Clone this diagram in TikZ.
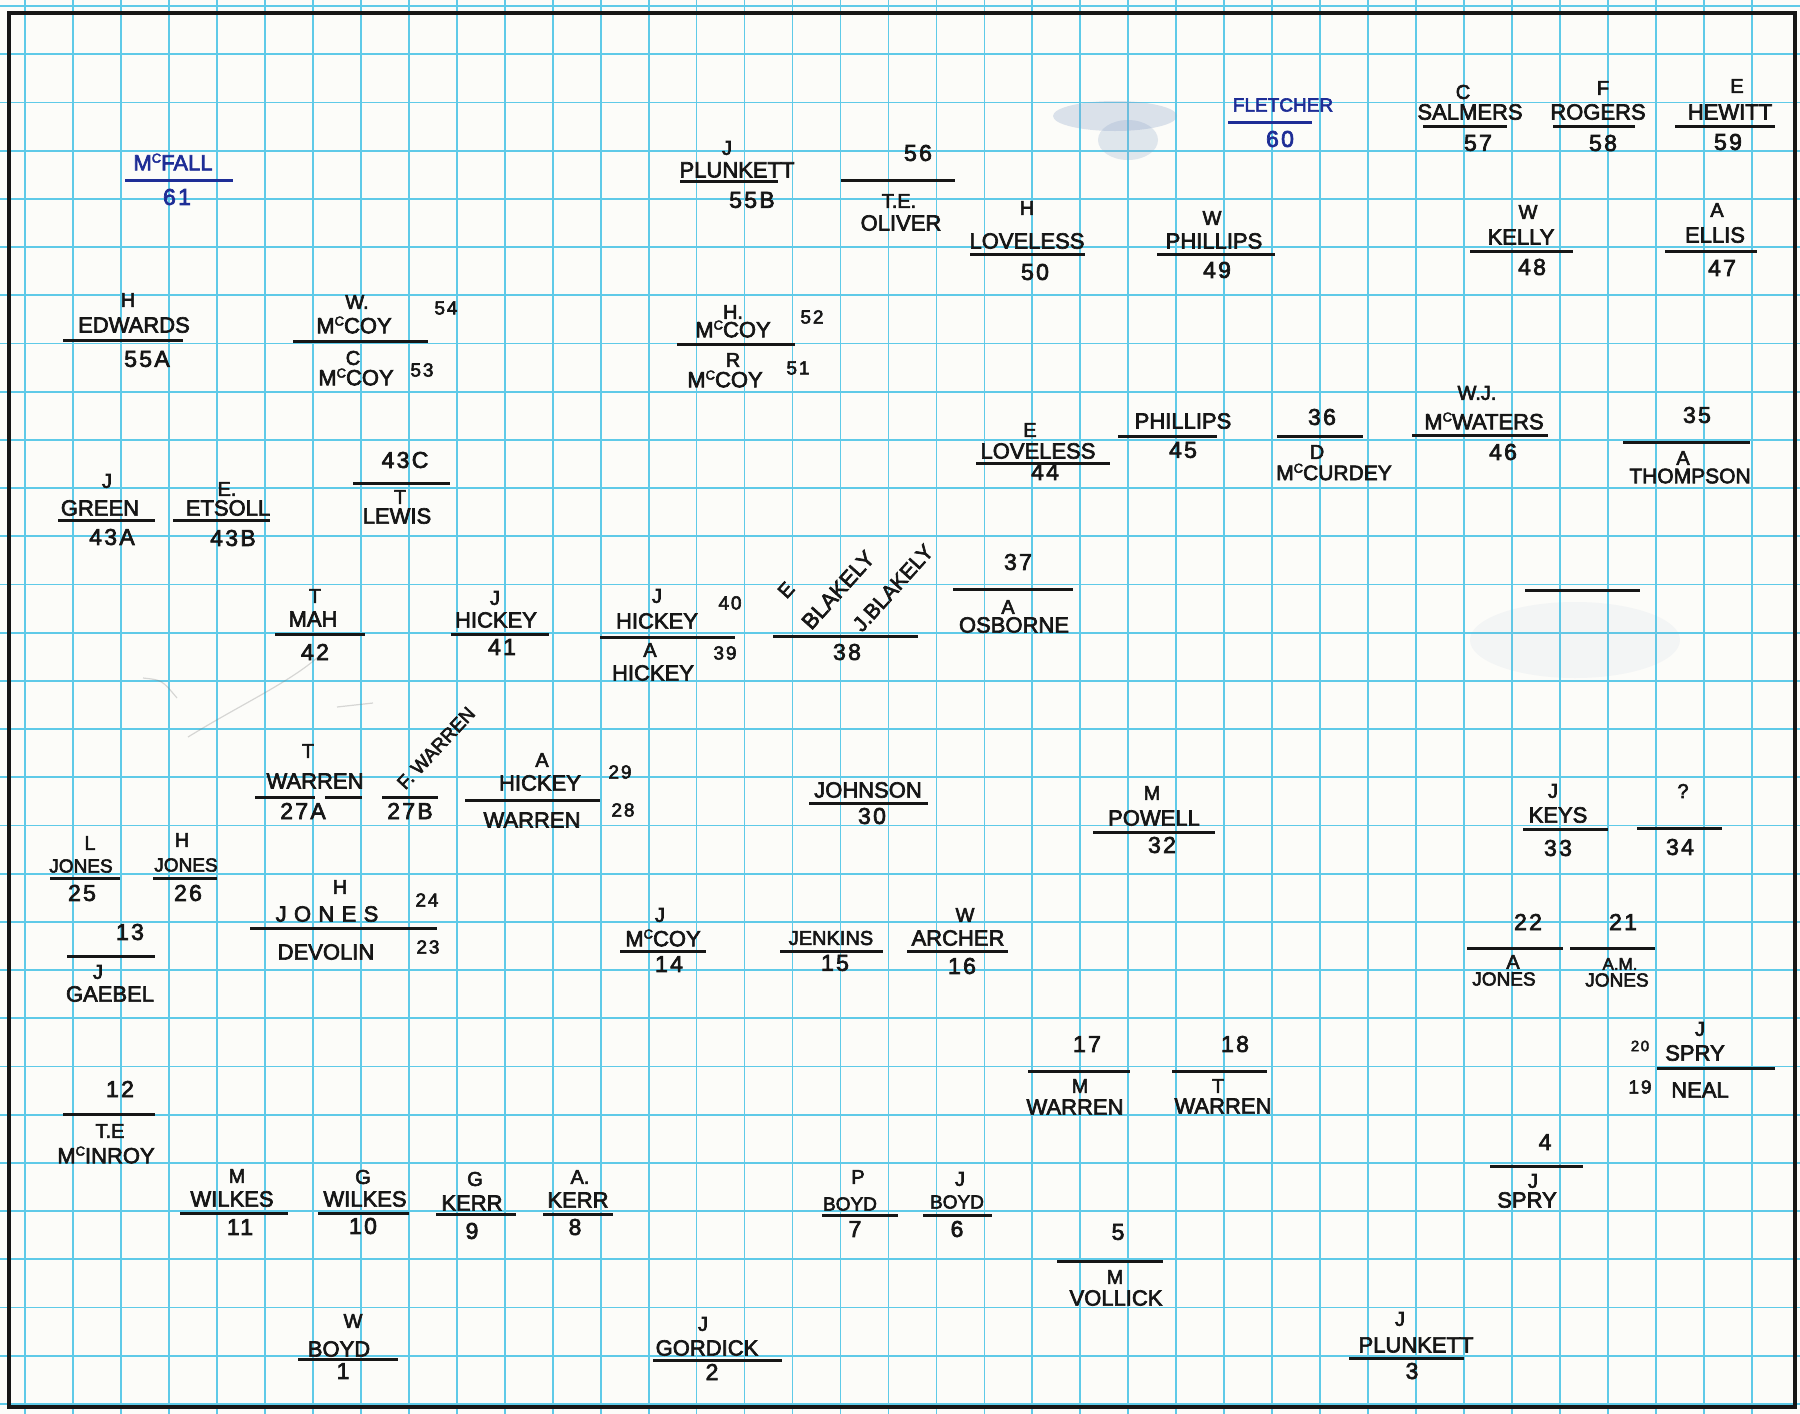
\documentclass[tikz,border=0pt]{standalone}
\usepackage{fontspec}
\setmainfont{Liberation Sans}[FakeBold=3]
\newfontfamily\numf{Liberation Sans}[FakeBold=3,LetterSpace=10]
\definecolor{ink}{RGB}{22,22,22}
\definecolor{blueink}{RGB}{30,45,150}
\definecolor{gridc}{RGB}{95,202,232}
\definecolor{paper}{RGB}{252,252,249}
\definecolor{smudge}{RGB}{140,165,200}
\newcommand\Mc{M\raisebox{0.35em}{\fontsize{13}{13}\selectfont C}}
\begin{document}
\begin{tikzpicture}[x=1pt,y=-1pt,
  nm/.style={inner sep=0pt,text=ink,font=\fontsize{22}{22}\selectfont},
  ini/.style={inner sep=0pt,text=ink,font=\fontsize{20}{20}\selectfont},
  num/.style={inner sep=0pt,text=ink,font=\numf\fontsize{23}{23}\selectfont},
  sm/.style={inner sep=0pt,text=ink,font=\numf\fontsize{19}{19}\selectfont},
  ul/.style={draw=ink,line width=3pt},
  gridline/.style={draw=gridc,line width=1.8pt},
  pencil/.style={draw=gray,opacity=0.3,line width=1.2pt}]
\useasboundingbox (0,0) rectangle (1800,1414);
\fill[paper] (0,0) rectangle (1800,1414);
% grid
\foreach \i in {0,...,36} \draw[gridline] ({25+47.97*\i},0) -- ({25+47.97*\i},1414);
\foreach \j in {0,...,29} \draw[gridline] (0,{6+48.2*\j}) -- (1800,{6+48.2*\j});
% smudges
\fill[smudge,opacity=0.3] (1115,116) ellipse [x radius=62, y radius=15];
\fill[smudge,opacity=0.25] (1128,140) ellipse [x radius=30, y radius=20];
\fill[smudge,opacity=0.08] (1575,640) ellipse [x radius=105, y radius=38];
% faint pencil
\draw[pencil] (188,737) .. controls (240,705) and (290,682) .. (318,657);
\draw[pencil] (143,678) .. controls (162,680) .. (177,698);
\draw[pencil] (337,707) -- (373,703);
% border
\draw[draw=ink,line width=4pt] (9,13) rectangle (1795,1407);

% ---- blue entries
\node[nm,text=blueink] (mcfall) at (173,162) {\Mc FALL};
\draw[ul,draw=blueink] (125,180) -- (233,180);
\node[num,text=blueink] (l61) at (177,197) {61};
\node[nm,text=blueink,font=\fontsize{19}{19}\selectfont] (fletcher) at (1283,105) {FLETCHER};
\draw[ul,draw=blueink] (1228,122) -- (1312,122);
\node[num,text=blueink] (l60) at (1280,139) {60};

% ---- top rows
\node[ini] (i55b) at (727,148) {J};
\node[nm] (plunkettb) at (737,170) {PLUNKETT};
\draw[ul] (680,181) -- (778,181);
\node[num] (l55b) at (752,200) {55B};

\node[num] (l56) at (918,153) {56};
\draw[ul] (841,180) -- (955,180);
\node[ini] (i56) at (899,201) {T.E.};
\node[nm] (oliver) at (901,223) {OLIVER};

\node[ini] (i50) at (1027,208) {H};
\node[nm] (loveless50) at (1027,241) {LOVELESS};
\draw[ul] (970,254) -- (1085,254);
\node[num] (l50) at (1035,272) {50};

\node[ini] (i49) at (1212,218) {W};
\node[nm] (phillips49) at (1214,241) {PHILLIPS};
\draw[ul] (1157,254) -- (1275,254);
\node[num] (l49) at (1217,270) {49};

\node[ini] (i57) at (1463,92) {C};
\node[nm] (salmers) at (1470,112) {SALMERS};
\draw[ul] (1423,126) -- (1507,126);
\node[num] (l57) at (1478,143) {57};

\node[ini] (i58) at (1603,88) {F};
\node[nm] (rogers) at (1598,112) {ROGERS};
\draw[ul] (1553,126) -- (1635,126);
\node[num] (l58) at (1603,143) {58};

\node[ini] (i59) at (1737,86) {E};
\node[nm] (hewitt) at (1730,112) {HEWITT};
\draw[ul] (1675,126) -- (1775,126);
\node[num] (l59) at (1728,142) {59};

\node[ini] (i48) at (1528,212) {W};
\node[nm] (kelly) at (1521,237) {KELLY};
\draw[ul] (1470,251) -- (1573,251);
\node[num] (l48) at (1532,267) {48};

\node[ini] (i47) at (1717,210) {A};
\node[nm] (ellis) at (1715,235) {ELLIS};
\draw[ul] (1665,251) -- (1757,251);
\node[num] (l47) at (1722,268) {47};

\node[ini] (i55a) at (128,300) {H};
\node[nm] (edwards) at (134,325) {EDWARDS};
\draw[ul] (63,340) -- (183,340);
\node[num] (l55a) at (147,359) {55A};

\node[ini] (i54) at (357,302) {W.};
\node[nm] (mccoy54) at (354,325) {\Mc COY};
\node[sm] (l54) at (446,308) {54};
\draw[ul] (293,341) -- (428,341);
\node[ini] (i53) at (353,358) {C};
\node[nm] (mccoy53) at (356,377) {\Mc COY};
\node[sm] (l53) at (422,370) {53};

\node[ini] (i52) at (733,312) {H.};
\node[nm] (mccoy52) at (733,329) {\Mc COY};
\node[sm] (l52) at (812,317) {52};
\draw[ul] (677,344) -- (795,344);
\node[ini] (i51) at (733,360) {R};
\node[nm] (mccoy51) at (725,379) {\Mc COY};
\node[sm] (l51) at (798,368) {51};

\node[ini] (i44) at (1030,430) {E};
\node[nm] (loveless44) at (1038,451) {LOVELESS};
\draw[ul] (976,463) -- (1110,463);
\node[num] (l44) at (1045,472) {44};

\node[nm] (phillips45) at (1183,421) {PHILLIPS};
\draw[ul] (1118,436) -- (1217,436);
\node[num] (l45) at (1183,450) {45};

\node[num] (l36) at (1322,417) {36};
\draw[ul] (1277,436) -- (1363,436);
\node[ini] (i36) at (1317,452) {D};
\node[nm,font=\fontsize{21}{21}\selectfont] (mccurdey) at (1334,472) {\Mc CURDEY};

\node[ini] (i46) at (1477,393) {W.J.};
\node[nm] (mcwaters) at (1484,421) {\Mc WATERS};
\draw[ul] (1412,435) -- (1548,435);
\node[num] (l46) at (1503,452) {46};

\node[num] (l35) at (1697,415) {35};
\draw[ul] (1623,442) -- (1750,442);
\node[ini] (i35) at (1683,458) {A};
\node[nm,font=\fontsize{21}{21}\selectfont] (thompson) at (1690,476) {THOMPSON};

% ---- 43 row
\node[ini] (i43a) at (107,481) {J};
\node[nm] (green) at (100,508) {GREEN};
\draw[ul] (58,520) -- (155,520);
\node[num] (l43a) at (112,537) {43A};

\node[ini] (i43b) at (227,489) {E.};
\node[nm] (etsoll) at (228,508) {ETSOLL};
\draw[ul] (173,520) -- (270,520);
\node[num] (l43b) at (233,538) {43B};

\node[num] (l43c) at (405,460) {43C};
\draw[ul] (353,483) -- (450,483);
\node[ini] (i43c) at (400,497) {T};
\node[nm] (lewis) at (397,516) {LEWIS};

% ---- 42-37 row
\node[ini] (i42) at (315,596) {T};
\node[nm] (mah) at (313,619) {MAH};
\draw[ul] (275,634) -- (365,634);
\node[num] (l42) at (315,652) {42};

\node[ini] (i41) at (495,598) {J};
\node[nm] (hickey41) at (496,620) {HICKEY};
\draw[ul] (451,634) -- (549,634);
\node[num] (l41) at (502,647) {41};

\node[ini] (i40) at (657,596) {J};
\node[nm] (hickey40) at (657,621) {HICKEY};
\node[sm] (l40) at (730,603) {40};
\draw[ul] (600,637) -- (735,637);
\node[ini] (i39) at (650,650) {A};
\node[sm] (l39) at (725,653) {39};
\node[nm] (hickey39) at (653,673) {HICKEY};

\draw[ul] (773,636) -- (918,636);
\node[num] (l38) at (847,652) {38};
\node[ini,rotate=48] (i38) at (786,590) {E};
\node[nm,rotate=48] (blakelye) at (838,590) {BLAKELY};
\node[nm,rotate=48,font=\fontsize{21}{21}\selectfont] (blakelyj) at (893,588) {J.BLAKELY};

\node[num] (l37) at (1018,562) {37};
\draw[ul] (953,589) -- (1073,589);
\node[ini] (i37) at (1008,607) {A};
\node[nm] (osborne) at (1014,625) {OSBORNE};

\draw[ul] (1525,590) -- (1640,590);

% ---- 27-34 row
\node[ini] (i27a) at (308,751) {T};
\node[nm] (warren27a) at (315,781) {WARREN};
\draw[ul] (255,797) -- (315,797);
\draw[ul] (325,797) -- (362,797);
\node[num] (l27a) at (303,811) {27A};

\node[nm,rotate=47,font=\fontsize{19}{19}\selectfont] (fwarren) at (436,748) {F. WARREN};
\draw[ul] (382,797) -- (438,797);
\node[num] (l27b) at (410,811) {27B};

\node[ini] (i29) at (542,760) {A};
\node[nm] (hickey29) at (540,783) {HICKEY};
\node[sm] (l29) at (620,772) {29};
\draw[ul] (465,800) -- (600,800);
\node[nm] (warren28) at (532,820) {WARREN};
\node[sm] (l28) at (623,810) {28};

\node[nm] (johnson) at (868,790) {JOHNSON};
\draw[ul] (809,803) -- (928,803);
\node[num] (l30) at (872,816) {30};

\node[ini] (i32) at (1152,793) {M};
\node[nm] (powell) at (1154,818) {POWELL};
\draw[ul] (1093,832) -- (1215,832);
\node[num] (l32) at (1162,845) {32};

\node[ini] (i33) at (1553,791) {J};
\node[nm] (keys) at (1558,815) {KEYS};
\draw[ul] (1523,829) -- (1608,829);
\node[num] (l33) at (1558,848) {33};

\node[ini] (i34) at (1683,791) {?};
\draw[ul] (1637,828) -- (1722,828);
\node[num] (l34) at (1680,847) {34};

% ---- 25-21 row
\node[ini] (i25) at (90,843) {L};
\node[nm,font=\fontsize{19}{19}\selectfont] (jones25) at (81,866) {JONES};
\draw[ul] (50,878) -- (120,878);
\node[num] (l25) at (82,893) {25};

\node[ini] (i26) at (182,840) {H};
\node[nm,font=\fontsize{19}{19}\selectfont] (jones26) at (186,865) {JONES};
\draw[ul] (153,878) -- (217,878);
\node[num] (l26) at (188,893) {26};

\node[ini] (i24) at (340,887) {H};
\node[nm] (jones24) at (327,914) {J\,\,O\,\,N\,\,E\,\,S};
\node[sm] (l24) at (427,900) {24};
\draw[ul] (250,928) -- (437,928);
\node[nm] (devolin) at (326,952) {DEVOLIN};
\node[sm] (l23) at (428,947) {23};

\node[num] (l13) at (130,932) {13};
\draw[ul] (67,956) -- (155,956);
\node[ini] (i13) at (98,972) {J};
\node[nm] (gaebel) at (110,994) {GAEBEL};

\node[ini] (i14) at (660,915) {J};
\node[nm] (mccoy14) at (663,938) {\Mc COY};
\draw[ul] (620,951) -- (706,951);
\node[num] (l14) at (669,964) {14};

\node[nm,font=\fontsize{20}{20}\selectfont] (jenkins) at (831,938) {JENKINS};
\draw[ul] (780,951) -- (883,951);
\node[num] (l15) at (835,963) {15};

\node[ini] (i16) at (965,915) {W};
\node[nm] (archer) at (958,938) {ARCHER};
\draw[ul] (907,951) -- (1008,951);
\node[num] (l16) at (962,966) {16};

\node[num] (l22) at (1528,922) {22};
\node[num] (l21) at (1623,922) {21};
\draw[ul] (1467,948) -- (1563,948);
\draw[ul] (1570,948) -- (1655,948);
\node[ini] (i22) at (1513,962) {A};
\node[nm,font=\fontsize{19}{19}\selectfont] (jones22) at (1504,979) {JONES};
\node[ini,font=\fontsize{17}{17}\selectfont] (i21) at (1620,964) {A.M.};
\node[nm,font=\fontsize{19}{19}\selectfont] (jones21) at (1617,980) {JONES};

% ---- 17-19 row
\node[num] (l17) at (1087,1044) {17};
\draw[ul] (1028,1071) -- (1130,1071);
\node[ini] (i17) at (1080,1086) {M};
\node[nm] (warren17) at (1075,1107) {WARREN};

\node[num] (l18) at (1235,1044) {18};
\draw[ul] (1172,1071) -- (1267,1071);
\node[ini] (i18) at (1218,1086) {T};
\node[nm] (warren18) at (1223,1106) {WARREN};

\node[ini] (i20) at (1700,1029) {J};
\node[sm,font=\numf\fontsize{15}{15}\selectfont] (l20) at (1640,1046) {20};
\node[nm] (spry20) at (1695,1053) {SPRY};
\draw[ul] (1657,1068) -- (1775,1068);
\node[sm] (l19) at (1640,1087) {19};
\node[nm] (neal) at (1700,1090) {NEAL};

% ---- 12-4 row
\node[num] (l12) at (120,1089) {12};
\draw[ul] (63,1114) -- (155,1114);
\node[ini] (i12) at (110,1131) {T.E};
\node[nm] (mcinroy) at (106,1155) {\Mc INROY};

\node[ini] (i11) at (237,1176) {M};
\node[nm] (wilkes11) at (232,1199) {WILKES};
\draw[ul] (180,1213) -- (288,1213);
\node[num] (l11) at (240,1227) {11};

\node[ini] (i10) at (363,1177) {G};
\node[nm] (wilkes10) at (365,1199) {WILKES};
\draw[ul] (318,1213) -- (409,1213);
\node[num] (l10) at (363,1226) {10};

\node[ini] (i9) at (475,1179) {G};
\node[nm] (kerr9) at (472,1203) {KERR};
\draw[ul] (436,1214) -- (516,1214);
\node[num] (l9) at (472,1231) {9};

\node[ini] (i8) at (580,1177) {A.};
\node[nm] (kerr8) at (578,1200) {KERR};
\draw[ul] (543,1214) -- (613,1214);
\node[num] (l8) at (575,1227) {8};

\node[ini] (i7) at (858,1177) {P};
\node[nm,font=\fontsize{19}{19}\selectfont] (boyd7) at (850,1204) {BOYD};
\draw[ul] (822,1215) -- (898,1215);
\node[num] (l7) at (855,1229) {7};

\node[ini] (i6) at (960,1179) {J};
\node[nm,font=\fontsize{19}{19}\selectfont] (boyd6) at (957,1202) {BOYD};
\draw[ul] (923,1215) -- (992,1215);
\node[num] (l6) at (957,1229) {6};

\node[num] (l5) at (1118,1232) {5};
\draw[ul] (1057,1261) -- (1163,1261);
\node[ini] (i5) at (1115,1277) {M};
\node[nm] (vollick) at (1116,1298) {VOLLICK};

\node[num] (l4) at (1545,1142) {4};
\draw[ul] (1490,1166) -- (1583,1166);
\node[ini] (i4) at (1533,1181) {J};
\node[nm] (spry4) at (1527,1200) {SPRY};

% ---- bottom row
\node[ini] (i1) at (353,1321) {W};
\node[nm] (boyd1) at (339,1349) {BOYD};
\draw[ul] (298,1359) -- (398,1359);
\node[num] (l1) at (343,1371) {1};

\node[ini] (i2) at (703,1324) {J};
\node[nm] (gordick) at (707,1348) {GORDICK};
\draw[ul] (653,1360) -- (782,1360);
\node[num] (l2) at (712,1372) {2};

\node[ini] (i3) at (1400,1319) {J};
\node[nm] (plunkett3) at (1416,1345) {PLUNKETT};
\draw[ul] (1349,1358) -- (1464,1358);
\node[num] (l3) at (1412,1371) {3};
\end{tikzpicture}
\end{document}
